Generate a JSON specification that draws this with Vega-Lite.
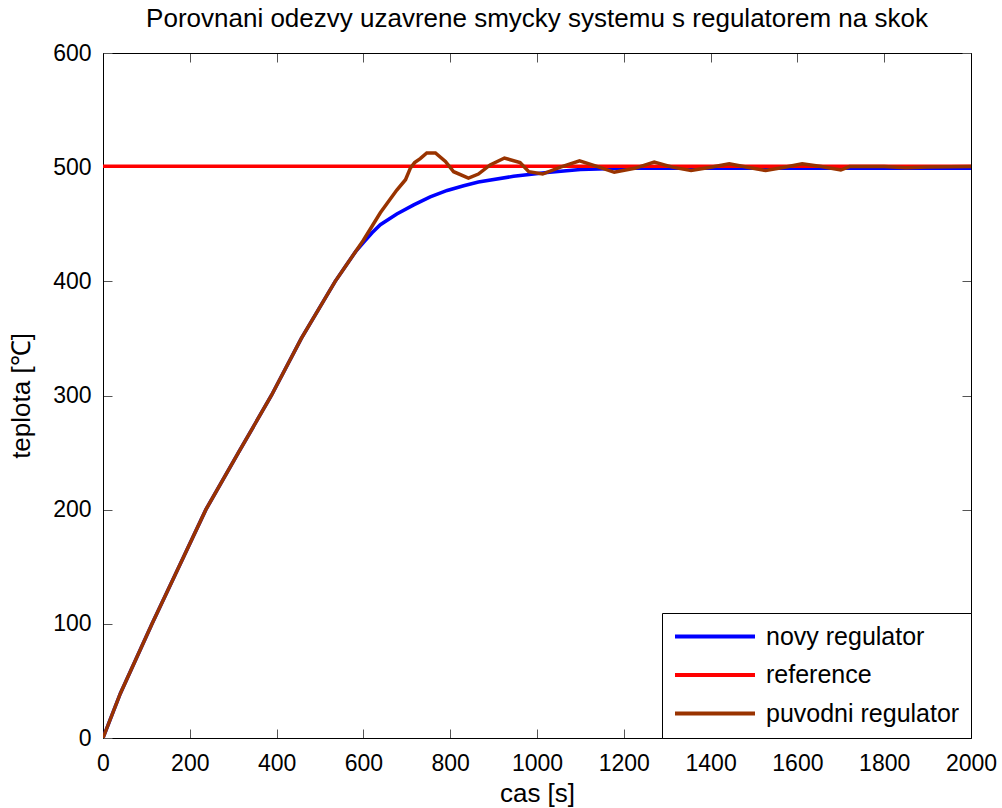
{
  "$schema": "https://vega.github.io/schema/vega-lite/v6.json",
  "width": 868,
  "height": 685,
  "autosize": {"type": "none"},
  "padding": {"left": 103, "top": 53, "right": 31, "bottom": 70},
  "background": "white",
  "config": {
    "font": "Liberation Sans",
    "view": {"stroke": "black", "strokeWidth": 1}
  },
  "title": {
    "text": "Porovnani odezvy uzavrene smycky systemu s regulatorem na skok",
    "fontSize": 26,
    "fontWeight": "normal",
    "color": "black",
    "offset": 10,
    "anchor": "middle"
  },
  "datasets": {
    "curves": [
      {"t": 0, "v": 0, "s": "novy regulator"},
      {"t": 40, "v": 39, "s": "novy regulator"},
      {"t": 113, "v": 100, "s": "novy regulator"},
      {"t": 175, "v": 150, "s": "novy regulator"},
      {"t": 237, "v": 200, "s": "novy regulator"},
      {"t": 312, "v": 250, "s": "novy regulator"},
      {"t": 388, "v": 300, "s": "novy regulator"},
      {"t": 457, "v": 350, "s": "novy regulator"},
      {"t": 535, "v": 400, "s": "novy regulator"},
      {"t": 562, "v": 415, "s": "novy regulator"},
      {"t": 582, "v": 426, "s": "novy regulator"},
      {"t": 600, "v": 434, "s": "novy regulator"},
      {"t": 620, "v": 442.5, "s": "novy regulator"},
      {"t": 639, "v": 449.6, "s": "novy regulator"},
      {"t": 677, "v": 459, "s": "novy regulator"},
      {"t": 716, "v": 467, "s": "novy regulator"},
      {"t": 754, "v": 474, "s": "novy regulator"},
      {"t": 793, "v": 479.6, "s": "novy regulator"},
      {"t": 831, "v": 483.7, "s": "novy regulator"},
      {"t": 865, "v": 487, "s": "novy regulator"},
      {"t": 946, "v": 492, "s": "novy regulator"},
      {"t": 1023, "v": 495.4, "s": "novy regulator"},
      {"t": 1100, "v": 498, "s": "novy regulator"},
      {"t": 1200, "v": 499, "s": "novy regulator"},
      {"t": 1300, "v": 499, "s": "novy regulator"},
      {"t": 2000, "v": 499, "s": "novy regulator"},
      {"t": 0, "v": 500.7, "s": "reference"},
      {"t": 2000, "v": 500.7, "s": "reference"},
      {"t": 0, "v": 0, "s": "puvodni regulator"},
      {"t": 40, "v": 39, "s": "puvodni regulator"},
      {"t": 113, "v": 100, "s": "puvodni regulator"},
      {"t": 175, "v": 150, "s": "puvodni regulator"},
      {"t": 237, "v": 200, "s": "puvodni regulator"},
      {"t": 312, "v": 250, "s": "puvodni regulator"},
      {"t": 388, "v": 300, "s": "puvodni regulator"},
      {"t": 457, "v": 350, "s": "puvodni regulator"},
      {"t": 535, "v": 400, "s": "puvodni regulator"},
      {"t": 562, "v": 415, "s": "puvodni regulator"},
      {"t": 600, "v": 436, "s": "puvodni regulator"},
      {"t": 639, "v": 460, "s": "puvodni regulator"},
      {"t": 677, "v": 480, "s": "puvodni regulator"},
      {"t": 697, "v": 489, "s": "puvodni regulator"},
      {"t": 708, "v": 499, "s": "puvodni regulator"},
      {"t": 718, "v": 504, "s": "puvodni regulator"},
      {"t": 731, "v": 507.5, "s": "puvodni regulator"},
      {"t": 746, "v": 512.5, "s": "puvodni regulator"},
      {"t": 766, "v": 512.5, "s": "puvodni regulator"},
      {"t": 789, "v": 505, "s": "puvodni regulator"},
      {"t": 808, "v": 496, "s": "puvodni regulator"},
      {"t": 842, "v": 490.5, "s": "puvodni regulator"},
      {"t": 865, "v": 494, "s": "puvodni regulator"},
      {"t": 892, "v": 502, "s": "puvodni regulator"},
      {"t": 925, "v": 508, "s": "puvodni regulator"},
      {"t": 961, "v": 504, "s": "puvodni regulator"},
      {"t": 981, "v": 496, "s": "puvodni regulator"},
      {"t": 1013, "v": 494, "s": "puvodni regulator"},
      {"t": 1054, "v": 500, "s": "puvodni regulator"},
      {"t": 1098, "v": 505.5, "s": "puvodni regulator"},
      {"t": 1138, "v": 500.7, "s": "puvodni regulator"},
      {"t": 1178, "v": 495.5, "s": "puvodni regulator"},
      {"t": 1225, "v": 499, "s": "puvodni regulator"},
      {"t": 1270, "v": 504.5, "s": "puvodni regulator"},
      {"t": 1312, "v": 500, "s": "puvodni regulator"},
      {"t": 1355, "v": 497, "s": "puvodni regulator"},
      {"t": 1400, "v": 500, "s": "puvodni regulator"},
      {"t": 1443, "v": 503, "s": "puvodni regulator"},
      {"t": 1485, "v": 500, "s": "puvodni regulator"},
      {"t": 1527, "v": 497, "s": "puvodni regulator"},
      {"t": 1570, "v": 500, "s": "puvodni regulator"},
      {"t": 1611, "v": 503, "s": "puvodni regulator"},
      {"t": 1655, "v": 500.5, "s": "puvodni regulator"},
      {"t": 1700, "v": 497.5, "s": "puvodni regulator"},
      {"t": 1720, "v": 500.5, "s": "puvodni regulator"},
      {"t": 1800, "v": 500.5, "s": "puvodni regulator"},
      {"t": 1850, "v": 499.5, "s": "puvodni regulator"},
      {"t": 1900, "v": 500.2, "s": "puvodni regulator"},
      {"t": 2000, "v": 500.5, "s": "puvodni regulator"}
    ]
  },
  "layer": [
    {
      "data": {"name": "curves"},
      "mark": {"type": "line", "strokeWidth": 3.5, "clip": true},
      "encoding": {
        "x": {
          "field": "t", "type": "quantitative",
          "scale": {"domain": [0, 2000], "nice": false, "zero": false},
          "axis": {
            "orient": "bottom", "title": "cas [s]", "values": [0,200,400,600,800,1000,1200,1400,1600,1800,2000],
            "format": "d",
            "grid": false, "domainColor": "black", "tickColor": "#555555", "tickSize": -9,
            "labelFontSize": 23, "labelColor": "black", "labelPadding": 23, "labelFlush": false,
            "titleFontSize": 26, "titleFontWeight": "normal", "titleColor": "black",
            "titleY": 63, "titleBaseline": "alphabetic"
          }
        },
        "y": {
          "field": "v", "type": "quantitative",
          "scale": {"domain": [0, 600], "nice": false, "zero": false},
          "axis": {
            "orient": "left", "title": "teplota [℃]", "values": [0,100,200,300,400,500,600],
            "format": "d",
            "grid": false, "domainColor": "black", "tickColor": "#555555", "tickSize": -9,
            "labelFontSize": 23, "labelColor": "black", "labelPadding": 21, "labelFlush": false,
            "titleFontSize": 26, "titleFontWeight": "normal", "titleColor": "black",
            "titleX": -74, "titleBaseline": "alphabetic"
          }
        },
        "color": {
          "field": "s", "type": "nominal",
          "scale": {
            "domain": ["novy regulator", "reference", "puvodni regulator"],
            "range": ["#0000ff", "#ff0000", "#993300"]
          },
          "legend": {
            "orient": "bottom-right", "offset": 0, "title": null,
            "strokeColor": "black", "fillColor": "white", "padding": 11,
            "symbolType": "stroke", "symbolSize": 6400, "symbolStrokeWidth": 4,
            "labelFontSize": 25, "labelOffset": 9, "labelColor": "black", "labelLimit": 0,
            "clipHeight": 25, "rowPadding": 12.5
          }
        }
      }
    },
    {
      "data": {"name": "curves"},
      "mark": {"type": "line", "opacity": 0},
      "encoding": {
        "x": {
          "field": "t", "type": "quantitative",
          "axis": {
            "orient": "top", "title": null, "labels": false, "values": [0,200,400,600,800,1000,1200,1400,1600,1800,2000],
            "grid": false, "domainColor": "black", "tickColor": "#555555", "tickSize": -9
          }
        },
        "y": {
          "field": "v", "type": "quantitative",
          "axis": {
            "orient": "right", "title": null, "labels": false, "values": [0,100,200,300,400,500,600],
            "grid": false, "domainColor": "black", "tickColor": "#555555", "tickSize": -9
          }
        }
      }
    }
  ],
  "resolve": {"axis": {"x": "independent", "y": "independent"}}
}
